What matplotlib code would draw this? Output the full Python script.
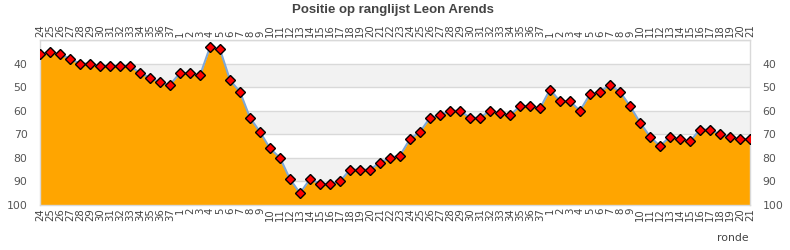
import matplotlib
matplotlib.use("Agg")
import matplotlib.pyplot as plt
import numpy as np

rounds = [str(r) for r in range(24, 38)] + [str(r) for r in range(1, 38)] + [str(r) for r in range(1, 22)]
positions = [36, 35, 36, 38, 40, 40, 41, 41, 41, 41, 44, 46, 48, 49, 44, 44, 45, 33, 34, 47,
             52, 63, 69, 76, 80, 89, 95, 89, 91, 91, 90, 85, 85, 85, 82, 80, 79, 72, 69, 63,
             62, 60, 60, 63, 63, 60, 61, 62, 58, 58, 59, 51, 56, 56, 60, 53, 52, 49, 52, 58,
             65, 71, 75, 71, 72, 73, 68, 68, 70, 71, 72, 72]
yticks = [40, 50, 60, 70, 80, 90, 100]
title = "Positie op ranglijst Leon Arends"
xlabel = "ronde"

fig = plt.figure(figsize=(7.9, 2.5), dpi=100)
ax = fig.add_axes([40/790, 1 - 205/250, 710/790, 165/250])

x = np.arange(len(positions))
for lo in (40, 60, 80):
    ax.axhspan(lo, lo + 10, color="#f2f2f2", zorder=0, lw=0)
for g in range(30, 101, 10):
    ax.axhline(g, color="#d9d9d9", lw=1, zorder=0.5)

ax.fill_between(x, positions, 100, color="#FFA500", lw=0, zorder=1)
ax.plot(x, positions, color="#7ea8d8", lw=1.5, zorder=2)
ax.plot(x, positions, ls="none", marker="D", ms=5.2, mfc="#ff0000", mec="#000000", mew=1, zorder=3)

ax.set_xlim(0, len(positions) - 1)
ax.set_ylim(100, 30)
ax.set_yticks(yticks)
ax.set_yticklabels([str(v) for v in yticks])
ax.set_xticks(x)
ax.set_xticklabels(rounds, rotation=90)

ax.tick_params(axis="y", length=0, labelsize=7.8, labelcolor="#555555", labelright=True, pad=9)
ax.tick_params(axis="x", length=0, labelsize=7.3, labelcolor="#444444", labeltop=True, pad=2)

for s in ax.spines.values():
    s.set_color("#d9d9d9")
    s.set_linewidth(1)

fig.text(0.497, 0.958, title, ha="center", va="center", fontsize=9.5, fontweight="bold",
         color="#444444", family=["Liberation Sans", "DejaVu Sans"])
fig.text(733/790, 1 - 238/250, xlabel, ha="center", va="center", fontsize=7.8, color="#444444")

fig.savefig("out.png", dpi=100)
